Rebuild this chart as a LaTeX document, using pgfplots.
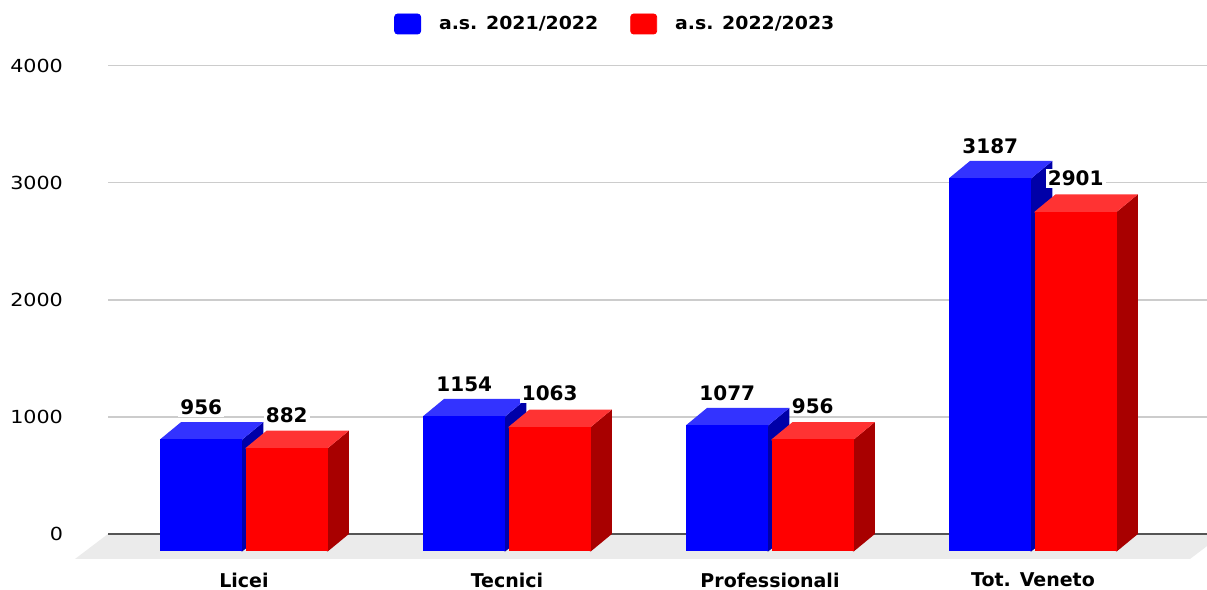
\documentclass[border=0pt]{standalone}
\usepackage{pgfplots}
\pgfplotsset{compat=1.18}
\usepackage{pgfplotstable}
\usepackage{fontspec}
\setmainfont{DejaVu Sans}
\newfontfamily\tickfont{DejaVu Sans}[FakeStretch=1.15]
\newfontfamily\legfont{DejaVu Sans}[FakeStretch=1.05]

\definecolor{bfront}{HTML}{0000FF}
\definecolor{btop}{HTML}{3333FF}
\definecolor{bside}{HTML}{0000A8}
\definecolor{rfront}{HTML}{FF0000}
\definecolor{rtop}{HTML}{FF3333}
\definecolor{rside}{HTML}{A80000}
\definecolor{floorgray}{HTML}{EBEBEB}
\definecolor{gridgray}{HTML}{CCCCCC}
\definecolor{zerogray}{HTML}{555555}

% iscritti per tipo di scuola
\pgfplotstableread{
cat a b
0 956 882
1 1154 1063
2 1077 956
3 3187 2901
}\data

% depth of the 3d bars (x units, y units)
\def\dx{0.0798}
\def\dy{148}

% side, top and front face of one bar (front last, so no seams show)
\newcommand\threedbar[6]{%
  \pgfmathsetmacro\xl{#1}%
  \pgfmathsetmacro\xr{#2}%
  \pgfmathsetmacro\xri{#2-0.004}%
  \pgfmathsetmacro\xlb{#1+\dx}%
  \pgfmathsetmacro\xrb{#2+\dx}%
  \pgfmathsetmacro\yb{#3}%
  \pgfmathsetmacro\yf{#3-\dy}%
  \pgfmathsetmacro\yfi{#3-\dy-10}%
  \edef\temp{%
    \noexpand\addplot[fill=#6, draw=none, forget plot] coordinates {(\xri,-\dy) (\xr,-\dy) (\xrb,0) (\xrb,\yb) (\xr,\yf) (\xri,\yf)};
    \noexpand\addplot[fill=#5, draw=none, forget plot] coordinates {(\xl,\yfi) (\xr,\yfi) (\xr,\yf) (\xrb,\yb) (\xlb,\yb) (\xl,\yf)};
    \noexpand\addplot[fill=#4, draw=none, forget plot] coordinates {(\xl,-\dy) (\xr,-\dy) (\xr,\yf) (\xl,\yf)};
  }%
  \temp
}

\begin{document}
\begin{tikzpicture}
\begin{axis}[
  width=549.5pt, height=246.65pt, scale only axis,
  xmin=-0.5171, xmax=3.6616, ymin=-213.5, ymax=4000,
  clip=false,
  axis line style={draw=none},
  major tick length=0pt,
  ytick={0,1000,2000,3000,4000},
  ymajorgrids, grid style={gridgray, line width=0.7pt},
  xtick={0,1,2,3},
  xticklabels={Licei,Tecnici,Professionali,Tot. Veneto},
  xticklabel style={font=\bfseries\fontsize{9.5}{11}\selectfont, yshift=-3.5pt},
  yticklabel style={font=\tickfont\fontsize{9}{11}\selectfont, xshift=-19pt},
  /pgf/number format/assume math mode=true,
  /pgf/number format/1000 sep={},
  legend columns=2,
  legend style={draw=none, fill=none, at={(0.4625,1.0845)}, anchor=center,
    font=\legfont\bfseries\fontsize{9}{11}\selectfont,
    /tikz/every odd column/.append style={column sep=7pt},
    /tikz/every even column/.append style={column sep=14pt}},
]
% floor and zero line
\addplot[fill=floorgray, draw=none, forget plot] coordinates {(-0.5171,0) (3.7224,0) (3.597,-213.5) (-0.6426,-213.5)};
\addplot[zerogray, line width=1.2pt, forget plot] coordinates {(-0.5171,0) (3.6616,0)};

\pgfplotsinvokeforeach{0,1,2,3}{
  \pgfplotstablegetelem{#1}{a}\of\data \let\va\pgfplotsretval
  \pgfplotstablegetelem{#1}{b}\of\data \let\vb\pgfplotsretval
  \threedbar{#1-0.319}{#1-0.006}{\va}{bfront}{btop}{bside}
  \threedbar{#1+0.006}{#1+0.319}{\vb}{rfront}{rtop}{rside}
}

% value labels
\addplot[draw=none, forget plot, nodes near coords, point meta=explicit symbolic,
  nodes near coords style={font=\bfseries\fontsize{10}{12}\selectfont, anchor=south, yshift=2.5pt, fill=white, inner sep=1pt}]
  table[x expr=\thisrow{cat}-0.1625, y=a, meta=a] {\data};
\addplot[draw=none, forget plot, nodes near coords, point meta=explicit symbolic,
  nodes near coords style={font=\bfseries\fontsize{10}{12}\selectfont, anchor=south, yshift=3pt, fill=white, inner sep=1pt}]
  table[x expr=\thisrow{cat}+0.1625, y=b, meta=b] {\data};

\addlegendimage{legend image code/.code={\fill[bfront, rounded corners=1.5pt] (0pt,-5pt) rectangle (13pt,5pt);}}
\addlegendentry{a.s. 2021/2022}
\addlegendimage{legend image code/.code={\fill[rfront, rounded corners=1.5pt] (0pt,-5pt) rectangle (13pt,5pt);}}
\addlegendentry{a.s. 2022/2023}
\end{axis}
\pgfresetboundingbox
\path[use as bounding box] ([xshift=-54pt,yshift=-15.5pt]current axis.south west) rectangle ([yshift=32.85pt]current axis.north east);
\end{tikzpicture}
\end{document}
